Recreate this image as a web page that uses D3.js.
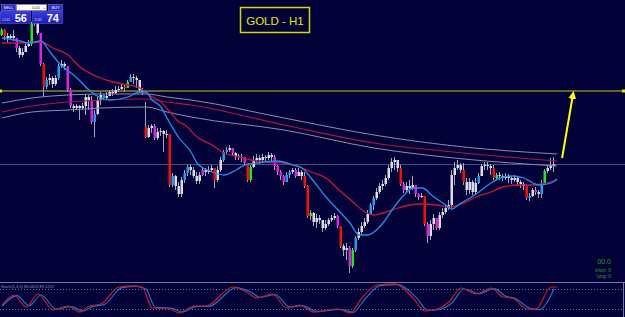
<!DOCTYPE html>
<html>
<head>
<meta charset="utf-8">
<script src="https://cdn.jsdelivr.net/npm/d3@7"></script>
<style>
  html, body { margin: 0; padding: 0; background: #020238; overflow: hidden; }
  svg { display: block; }
</style>
</head>
<body>
<svg id="chart"></svg>
<script>
// H1 candles (prices)
const open = [
  1256.5,1257.0,1256.4,1256.2,1256.4,1256.2,1255.2,1254.5,1254.8,1255.4,
  1255.6,1257.6,1257.7,1256.7,1253.6,1251.3,1252.0,1252.2,1251.6,1252.2,
  1253.4,1253.6,1253.4,1251.0,1249.4,1249.2,1249.4,1249.2,1249.4,1250.3,
  1250.0,1247.8,1248.6,1250.0,1250.5,1250.2,1250.4,1250.8,1250.7,1251.0,
  1251.1,1251.3,1251.2,1251.8,1252.3,1252.2,1252.0,1251.0,1247.3,1246.3,
  1247.2,1247.4,1246.2,1246.8,1246.9,1246.6,1246.6,1241.5,1242.4,1241.4,
  1240.6,1242.0,1242.7,1243.3,1243.0,1242.4,1241.9,1242.5,1243.0,1242.8,
  1243.0,1243.2,1242.0,1243.0,1244.0,1244.8,1245.0,1245.2,1244.7,1244.4,
  1244.3,1244.3,1243.7,1242.0,1243.3,1244.0,1244.2,1244.0,1244.3,1244.2,
  1244.5,1244.3,1243.4,1242.8,1242.4,1241.8,1242.5,1242.8,1243.0,1242.4,
  1242.8,1242.4,1241.4,1238.4,1238.7,1237.8,1238.2,1238.0,1237.2,1237.6,
  1238.0,1238.2,1238.4,1237.4,1235.4,1235.0,1235.2,1233.4,1235.0,1236.2,
  1236.8,1237.4,1237.8,1238.6,1239.5,1240.2,1240.8,1241.4,1241.6,1242.2,
  1243.2,1243.8,1244.0,1243.2,1241.6,1241.0,1241.4,1241.2,1241.5,1240.6,
  1240.3,1240.4,1237.6,1236.4,1237.6,1238.2,1237.2,1238.5,1238.8,1239.2,
  1239.5,1242.5,1243.2,1243.5,1243.0,1241.8,1241.0,1241.8,1240.8,1241.7,
  1242.4,1243.4,1243.5,1243.4,1243.2,1242.2,1242.5,1242.4,1242.2,1242.4,
  1242.2,1242.0,1242.2,1241.8,1241.6,1241.4,1240.2,1240.4,1241.0,1240.8,
  1240.6,1241.7,1242.9,1243.2,1243.4
];
const high = [
  1257.2,1257.1,1256.7,1256.6,1257.0,1256.2,1255.4,1255.2,1255.8,1256.0,
  1257.8,1258.0,1257.8,1256.7,1253.7,1252.3,1252.6,1252.4,1252.5,1253.6,
  1254.0,1253.8,1253.4,1251.2,1249.6,1249.6,1249.5,1249.7,1250.6,1250.5,
  1250.4,1249.0,1250.3,1250.8,1250.5,1250.8,1251.0,1251.1,1251.4,1251.4,
  1251.7,1251.6,1252.0,1252.6,1252.6,1252.4,1252.0,1251.2,1249.8,1247.5,
  1247.6,1247.6,1247.2,1247.2,1247.0,1247.0,1246.6,1242.7,1242.5,1241.8,
  1242.3,1243.0,1243.5,1243.5,1243.3,1242.8,1242.8,1243.3,1243.2,1243.4,
  1243.5,1243.2,1243.4,1244.3,1245.0,1245.3,1245.5,1245.2,1244.8,1244.6,
  1244.6,1244.3,1243.7,1243.5,1244.4,1244.6,1244.5,1244.6,1244.5,1244.8,
  1244.7,1244.5,1243.5,1243.0,1242.5,1242.8,1243.0,1243.2,1243.2,1243.2,
  1243.0,1242.8,1241.5,1239.0,1238.8,1238.6,1238.5,1238.0,1238.0,1238.2,
  1238.5,1238.7,1238.5,1237.4,1235.6,1235.7,1235.4,1235.2,1236.4,1237.2,
  1237.8,1238.2,1239.0,1239.7,1240.4,1241.2,1241.7,1242.0,1242.5,1243.5,
  1244.2,1244.3,1244.0,1243.5,1241.8,1241.8,1242.0,1242.4,1241.5,1240.7,
  1240.7,1240.4,1237.8,1238.0,1238.6,1238.2,1238.8,1239.2,1239.6,1240.0,
  1243.0,1243.8,1244.0,1243.7,1243.7,1242.2,1242.2,1242.0,1242.2,1242.7,
  1243.6,1243.8,1243.8,1243.6,1243.5,1242.7,1242.8,1242.6,1242.7,1242.6,
  1242.4,1242.5,1242.3,1242.0,1241.8,1241.5,1240.7,1241.2,1241.3,1241.0,
  1242.0,1243.1,1243.5,1244.2,1244.3
];
const low = [
  1256.4,1256.0,1255.8,1256.0,1255.9,1254.8,1254.2,1254.3,1255.0,1255.3,
  1255.4,1257.4,1256.5,1253.4,1250.4,1251.1,1251.5,1251.2,1251.4,1252.0,
  1253.2,1253.0,1250.8,1249.2,1248.8,1249.0,1248.0,1249.0,1248.5,1249.0,
  1247.6,1246.3,1248.5,1249.5,1250.0,1250.1,1250.4,1250.4,1250.6,1250.8,
  1251.0,1250.8,1251.2,1251.8,1251.6,1251.2,1250.8,1250.5,1246.2,1246.2,
  1246.7,1246.0,1246.0,1246.4,1244.8,1246.2,1241.3,1241.3,1241.0,1240.3,
  1240.3,1241.7,1242.4,1242.5,1242.2,1241.6,1241.6,1242.4,1242.4,1242.6,
  1242.8,1241.2,1241.8,1242.8,1243.8,1244.6,1244.8,1244.4,1244.0,1244.0,
  1243.8,1243.4,1241.8,1241.8,1243.2,1243.8,1243.6,1243.9,1243.8,1244.0,
  1243.7,1243.0,1242.5,1242.0,1241.5,1241.8,1242.2,1242.6,1242.2,1242.4,
  1242.0,1241.2,1238.2,1238.0,1237.4,1237.2,1237.6,1236.8,1237.0,1237.4,
  1237.8,1238.0,1237.2,1235.2,1234.4,1234.0,1232.7,1233.2,1234.8,1236.0,
  1236.6,1237.2,1237.6,1238.5,1239.0,1240.0,1240.6,1241.0,1241.4,1242.0,
  1242.8,1243.0,1242.8,1241.4,1240.7,1240.8,1240.6,1241.0,1240.3,1240.0,
  1240.2,1237.4,1235.7,1236.0,1237.0,1237.0,1237.0,1238.2,1238.6,1239.0,
  1239.2,1241.5,1243.0,1242.7,1241.5,1240.5,1240.6,1240.5,1240.6,1241.6,
  1242.4,1243.0,1243.0,1242.5,1242.0,1242.1,1242.0,1241.9,1242.0,1241.7,
  1241.6,1241.8,1241.4,1241.2,1241.0,1240.0,1239.9,1240.3,1240.5,1240.2,
  1240.2,1241.6,1242.7,1243.0,1242.8
];
const close = [
  1257.0,1256.4,1256.2,1256.4,1256.2,1255.2,1254.5,1254.8,1255.4,1255.6,
  1257.6,1257.7,1256.7,1253.6,1251.3,1252.0,1252.2,1251.6,1252.2,1253.4,
  1253.6,1253.4,1251.0,1249.4,1249.2,1249.4,1249.2,1249.4,1250.3,1250.0,
  1247.8,1248.6,1250.0,1250.5,1250.2,1250.4,1250.8,1250.7,1251.0,1251.1,
  1251.3,1251.2,1251.8,1252.3,1252.2,1252.0,1251.0,1250.8,1246.3,1247.2,
  1247.4,1246.2,1246.8,1246.9,1246.6,1246.6,1241.5,1242.4,1241.4,1240.6,
  1242.0,1242.7,1243.3,1243.0,1242.4,1241.9,1242.5,1243.0,1242.8,1243.0,
  1243.2,1242.0,1243.0,1244.0,1244.8,1245.0,1245.2,1244.7,1244.4,1244.3,
  1244.3,1243.7,1242.0,1243.3,1244.0,1244.2,1244.0,1244.3,1244.2,1244.5,
  1244.3,1243.4,1242.8,1242.4,1241.8,1242.5,1242.8,1243.0,1242.4,1242.8,
  1242.4,1241.4,1238.4,1238.7,1237.8,1238.2,1238.0,1237.2,1237.6,1238.0,
  1238.2,1238.4,1237.4,1235.4,1235.0,1235.2,1233.4,1235.0,1236.2,1236.8,
  1237.4,1237.8,1238.6,1239.5,1240.2,1240.8,1241.4,1241.6,1242.2,1243.2,
  1243.8,1244.0,1243.2,1241.6,1241.0,1241.4,1241.2,1241.5,1240.6,1240.3,
  1240.4,1237.6,1236.4,1237.6,1238.2,1237.2,1238.5,1238.8,1239.2,1239.5,
  1242.5,1243.2,1243.5,1243.0,1241.8,1241.0,1241.8,1240.8,1241.7,1242.4,
  1243.4,1243.5,1243.4,1243.2,1242.2,1242.5,1242.4,1242.2,1242.4,1242.2,
  1242.0,1242.2,1241.8,1241.6,1241.4,1240.2,1240.4,1241.0,1240.8,1240.6,
  1241.7,1242.9,1243.2,1243.4,1243.56
];
// bar colouring from the trend indicator: W white, C cyan, G green, R red, M magenta
const barColors =
  "GRWWWMWWWW" + "GMWMRCWWWC" + "WWMMWWWWWW" + "MCWWCWWWWW" + "WRGCWWWWRW" +
  "WMWWWWRCWW" + "WCCWWWWMWW" + "WRWWCCWMWW" + "WMRGWWWWWW" + "WMMMMCCWMW" +
  "WRRGWWWWWW" + "WWMRWWMGCW" + "WWWCCWWWWW" + "WWWRMWWWMM" + "WRMWWMWWWW" +
  "WWWWRWWWWC" + "WWWWRGWWWW" + "WWWWWRCWMW" + "CGWWW";

// moving averages, [bar, price]
const maFast = [[0,1256.2],[6,1255.9],[9,1255.7],[13,1255.9],[16,1254.8],[19,1253.7],[25,1252.2],[29,1251.0],
  [33,1250.2],[36,1250.0],[42,1250.3],[46,1250.8],[48,1250.8],[50,1250.0],[53,1249.3],[55,1248.2],[59,1246.2],
  [63,1244.8],[65,1243.7],[70,1242.8],[74,1242.5],[78,1243.0],[81,1243.5],[85,1243.7],[92,1243.9],[97,1243.5],
  [100,1243.2],[103,1242.2],[108,1240.3],[112,1239.0],[116,1237.7],[119,1236.5],[122,1236.5],[124,1236.8],
  [127,1237.7],[130,1239.0],[134,1240.5],[137,1241.2],[140,1241.2],[144,1240.3],[147,1239.7],[150,1239.1],
  [153,1239.7],[156,1240.2],[159,1240.8],[163,1241.7],[167,1242.3],[170,1242.4],[174,1242.2],[177,1241.7],
  [179,1241.5],[183,1241.7],[185,1242.1]];
const maSlow = [[0,1255.7],[6,1255.7],[13,1255.8],[17,1255.2],[22,1254.5],[26,1253.3],[32,1252.3],[37,1251.8],
  [42,1251.5],[46,1251.2],[49,1250.5],[53,1249.8],[56,1248.8],[59,1247.8],[61,1247.5],[65,1246.3],[70,1245.5],
  [74,1244.7],[79,1244.3],[83,1244.0],[89,1243.8],[94,1243.7],[100,1243.2],[103,1242.8],[108,1242.2],
  [112,1241.1],[117,1239.8],[120,1239.0],[124,1238.5],[127,1238.7],[132,1239.2],[136,1239.5],[140,1239.6],
  [145,1239.5],[149,1239.3],[154,1239.7],[158,1240.3],[163,1240.8],[167,1241.3],[172,1241.5],[176,1241.5],
  [180,1241.6],[185,1242.0]];

// long-period band
const bandUpper = [[0,1249.7],[10,1250.2],[22,1250.5],[33,1250.6],[48,1250.6],[55,1250.3],[63,1250.0],[94,1248.2],[124,1246.5],[154,1245.3],[185,1244.6]];
const bandMid   = [[0,1248.8],[10,1249.4],[22,1249.8],[33,1250.0],[48,1250.1],[55,1249.8],[63,1249.5],[94,1247.5],[124,1245.7],[154,1244.7],[185,1243.9]];
const bandLower = [[0,1248.2],[10,1248.8],[22,1249.0],[33,1249.2],[48,1249.3],[55,1248.8],[63,1248.3],[94,1247.0],[124,1245.2],[154,1244.1],[185,1243.4]];

const levelPrice = 1250.9;
const bid = 1243.56;
const arrowFrom = [186.7, 1244.2];
const arrowTo = [190.3, 1250.5];

// stochastic, [bar, value]
const stochMain = [[0,32],[4,62],[8,26],[12,65],[17,17],[22,29],[26,11],[29,29],[33,35],[39,86],[44,89],[47,83],
  [50,23],[56,20],[59,8],[64,29],[68,29],[77,86],[82,68],[85,53],[90,65],[95,23],[99,32],[104,11],[112,20],
  [116,8],[120,53],[125,92],[131,95],[137,53],[141,14],[145,20],[149,41],[153,83],[158,65],[163,83],[167,56],
  [170,53],[175,20],[178,20],[183,86],[185,86]];
const stochSignal = [[0,28],[5,60],[9,30],[13,62],[18,20],[23,27],[27,14],[30,27],[34,33],[40,84],[45,88],[48,80],
  [51,26],[57,21],[60,11],[65,28],[69,28],[78,84],[83,70],[86,55],[91,63],[96,26],[100,30],[105,13],[113,19],
  [117,10],[121,50],[126,90],[132,93],[138,55],[142,16],[146,19],[150,39],[154,80],[159,66],[164,81],[168,58],
  [171,52],[176,22],[179,18],[184,80]];
const stochLevels = [80, 20];

const colorOf = { W: "#dcdce8", C: "#1e9fe8", G: "#22e622", R: "#f01010", M: "#e020e0" };

// SVG setup
const width = 625, height = 317;
const svg = d3.select("#chart").attr("width", width).attr("height", height)
  .style("font-family", "'Liberation Sans', Arial, sans-serif");
svg.append("rect").attr("width", width).attr("height", height).attr("fill", "#020238");

const x = d3.scaleLinear().domain([0, 184]).range([2, 554]);
const y = d3.scaleLinear().domain([1232.5, 1260]).range([275, 0]);
const ys = d3.scaleLinear().domain([0, 100]).range([315.7, 282.3]);

const candles = close.map((c, i) => ({ i, o: open[i], h: high[i], l: low[i], c, k: barColors[i] }));

// horizontal level + bid line
svg.append("line").attr("x1", 0).attr("x2", width).attr("y1", y(levelPrice)).attr("y2", y(levelPrice))
  .attr("stroke", "#66642c").attr("stroke-width", 2);
svg.append("rect").attr("x", 0).attr("y", y(levelPrice) - 1.5).attr("width", 2).attr("height", 3).attr("fill", "#e0e000");
svg.append("rect").attr("x", 622).attr("y", y(levelPrice) - 1.5).attr("width", 3).attr("height", 3).attr("fill", "#e0e000");
svg.append("line").attr("x1", 0).attr("x2", width).attr("y1", Math.round(y(bid)) + 0.5).attr("y2", Math.round(y(bid)) + 0.5)
  .attr("stroke", "#3c4f8c").attr("stroke-width", 1);

// candles
const bars = svg.append("g");
bars.selectAll("line").data(candles).enter().append("line")
  .attr("x1", d => x(d.i) - 0.5).attr("x2", d => x(d.i) - 0.5)
  .attr("y1", d => y(d.h)).attr("y2", d => y(d.l))
  .attr("stroke", "#a4a4bc").attr("stroke-width", 1);
bars.selectAll("rect").data(candles).enter().append("rect")
  .attr("x", d => x(d.i) - 1.5).attr("width", 2.5)
  .attr("y", d => y(Math.max(d.o, d.c)))
  .attr("height", d => Math.max(1, Math.abs(y(d.o) - y(d.c))))
  .attr("fill", d => colorOf[d.k]);

// band + moving averages
const line = d3.line().x(d => x(d[0])).y(d => y(d[1])).curve(d3.curveMonotoneX);
const paths = [
  [bandUpper, "#8c8cab", 1], [bandLower, "#8c8cab", 1], [bandMid, "#b0163c", 1.2],
  [maSlow, "#c8143c", 1.3], [maFast, "#1f8fef", 1.3]
];
paths.forEach(([d, col, w]) => {
  svg.append("path").datum(d).attr("d", line).attr("fill", "none").attr("stroke", col).attr("stroke-width", w);
});

// arrow
svg.append("defs").append("marker").attr("id", "head").attr("viewBox", "0 0 10 10")
  .attr("refX", 5).attr("refY", 5).attr("markerWidth", 4).attr("markerHeight", 4).attr("orient", "auto")
  .append("path").attr("d", "M0,0 L10,5 L0,10 z").attr("fill", "#ffff00");
svg.append("line")
  .attr("x1", x(arrowFrom[0])).attr("y1", y(arrowFrom[1]))
  .attr("x2", x(arrowTo[0])).attr("y2", y(arrowTo[1]))
  .attr("stroke", "#ffff00").attr("stroke-width", 2).attr("marker-end", "url(#head)");

// title box
svg.append("rect").attr("x", 240.5).attr("y", 7.5).attr("width", 69).attr("height", 25)
  .attr("fill", "none").attr("stroke", "#d8d800").attr("stroke-width", 1.5);
svg.append("text").attr("x", 275).attr("y", 24.5).attr("text-anchor", "middle")
  .attr("font-size", 11.5).attr("fill", "#e6e600").text("GOLD - H1");

// one-click trading panel
const grad = svg.select("defs").append("linearGradient").attr("id", "pbox").attr("x1", 0).attr("y1", 0).attr("x2", 0).attr("y2", 1);
grad.append("stop").attr("offset", "0%").attr("stop-color", "#3a3ae6");
grad.append("stop").attr("offset", "100%").attr("stop-color", "#1c1cb4");
const panel = svg.append("g");
[[1, "SELL"], [48, "BUY"]].forEach(([px, t]) => {
  panel.append("rect").attr("x", px + 0.5).attr("y", 4.5).attr("width", 14).attr("height", 6)
    .attr("fill", "#2a2ac4").attr("stroke", "#7a7ae8").attr("stroke-width", 0.6);
  panel.append("text").attr("x", px + 7.5).attr("y", 9.3).attr("text-anchor", "middle")
    .attr("font-size", 4).attr("fill", "#ffffff").text(t);
});
panel.append("rect").attr("x", 16.5).attr("y", 4.5).attr("width", 30).attr("height", 6)
  .attr("fill", "#ffffff").attr("stroke", "#9090c0").attr("stroke-width", 0.6);
panel.append("text").attr("x", 19).attr("y", 9.3).attr("font-size", 4).attr("fill", "#333").text("-");
panel.append("text").attr("x", 40).attr("y", 9.3).attr("text-anchor", "end").attr("font-size", 4).attr("fill", "#222").text("0.01");
panel.append("text").attr("x", 43).attr("y", 9.3).attr("font-size", 4).attr("fill", "#333").text("+");
[[0, "56"], [32, "74"]].forEach(([px, t]) => {
  panel.append("rect").attr("x", px + 0.5).attr("y", 11.5).attr("width", 30).attr("height", 12)
    .attr("fill", "url(#pbox)").attr("stroke", "#5a5ae0").attr("stroke-width", 0.6);
  panel.append("text").attr("x", px + 2).attr("y", 20.5).attr("font-size", 3.5).attr("fill", "#c8c8ff").text("1243");
  panel.append("text").attr("x", px + 27).attr("y", 21.5).attr("text-anchor", "end")
    .attr("font-size", 11).attr("font-weight", "bold").attr("fill", "#ffffff").text(t);
});

// stats text
const stats = svg.append("g").attr("fill", "#1ea41e").attr("text-anchor", "end");
stats.append("text").attr("x", 611).attr("y", 264).attr("font-size", 7).text("00.0");
stats.append("text").attr("x", 611).attr("y", 271.5).attr("font-size", 4.8).text("short: 0");
stats.append("text").attr("x", 611).attr("y", 278).attr("font-size", 4.8).text("long: 0");

// stochastic sub-window
svg.append("line").attr("x1", 0).attr("x2", width).attr("y1", 282.5).attr("y2", 282.5)
  .attr("stroke", "#7878a0").attr("stroke-width", 1);
svg.append("line").attr("x1", 623.5).attr("x2", 623.5).attr("y1", 282).attr("y2", height)
  .attr("stroke", "#7878a0").attr("stroke-width", 1);
svg.selectAll("line.level").data(stochLevels).enter().append("line").attr("class", "level")
  .attr("x1", 0).attr("x2", 623).attr("y1", d => Math.round(ys(d)) + 0.5).attr("y2", d => Math.round(ys(d)) + 0.5)
  .attr("stroke", "#8a8aaa").attr("stroke-width", 0.8).attr("stroke-dasharray", "1,2");
svg.append("text").attr("x", 1).attr("y", 287.5).attr("font-size", 4).attr("fill", "#9090b0")
  .text("Stoch(5,3,3) 86.6623 89.1222");
const sline = d3.line().x(d => x(d[0])).y(d => ys(d[1])).curve(d3.curveMonotoneX);
svg.append("path").datum(stochSignal).attr("d", sline).attr("fill", "none").attr("stroke", "#2070d0").attr("stroke-width", 1.2);
svg.append("path").datum(stochMain).attr("d", sline).attr("fill", "none").attr("stroke", "#d01818").attr("stroke-width", 1.2);
</script>
</body>
</html>
